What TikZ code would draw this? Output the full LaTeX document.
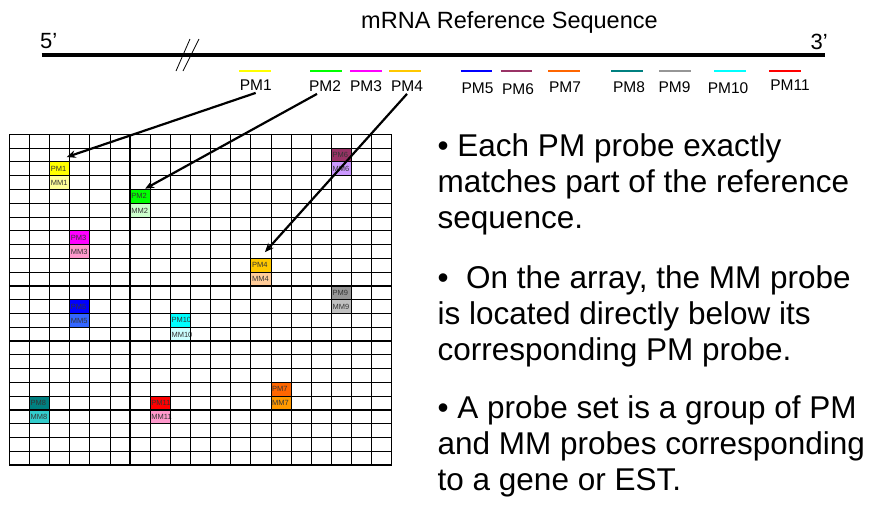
\documentclass[tikz,border=0pt]{standalone}
\usepackage{fontspec}
\setmainfont{Liberation Sans}
\usetikzlibrary{arrows.meta,positioning}

\definecolor{pmyellow}{RGB}{255,255,0}
\definecolor{mmyellow}{RGB}{255,255,153}
\definecolor{pmgreen}{RGB}{0,255,0}
\definecolor{mmgreen}{RGB}{204,255,204}
\definecolor{pmmagenta}{RGB}{255,0,255}
\definecolor{mmpink}{RGB}{255,153,204}
\definecolor{pmgold}{RGB}{255,200,0}
\definecolor{mmpeach}{RGB}{255,204,153}
\definecolor{pmblue}{RGB}{0,0,255}
\definecolor{mmblue}{RGB}{51,102,255}
\definecolor{pmplum}{RGB}{153,51,102}
\definecolor{mmlavender}{RGB}{204,153,255}
\definecolor{pmorange}{RGB}{255,102,0}
\definecolor{mmorange}{RGB}{255,153,0}
\definecolor{pmteal}{RGB}{0,128,128}
\definecolor{mmteal}{RGB}{51,204,204}
\definecolor{pmgray}{RGB}{150,150,150}
\definecolor{mmgray}{RGB}{192,192,192}
\definecolor{pmcyan}{RGB}{0,255,255}
\definecolor{mmcyan}{RGB}{204,255,255}
\definecolor{pmred}{RGB}{255,0,0}

\begin{document}
\begin{tikzpicture}[x=1pt,y=-1pt,
  seqline/.style={line width=4pt},
  probebar/.style={line width=2.4pt},
  probelabel/.style={font=\fontsize{15.5}{18}\selectfont,inner sep=2pt,anchor=base},
  cell/.style={minimum height=13.78pt,text width=17.6pt,inner xsep=1.25pt,inner ysep=0pt,
    align=left,font=\fontsize{7.5}{7.5}\selectfont,text=black!80},
  gridline/.style={line width=0.85pt},
  gridthick/.style={line width=1.25pt,line cap=rect},
  probearrow/.style={line width=2.2pt,-{Stealth[length=9pt,width=7.5pt]}},
  bullets/.style={font=\fontsize{31.5}{36}\selectfont,align=left,anchor=north west,inner sep=0pt}]

\useasboundingbox (0,0) rectangle (871,504);

% the sequence
\node[font=\fontsize{23.5}{28}\selectfont,anchor=base] (title) at (509.5,28.3) {mRNA Reference Sequence};
\node[font=\fontsize{22}{26}\selectfont,anchor=base west,inner sep=0pt] (five) at (40,48) {5’};
\node[font=\fontsize{22}{26}\selectfont,anchor=base west,inner sep=0pt] (three) at (810.5,49) {3’};
\draw[seqline] (41.7,55) -- (825,55);
\draw[line width=0.8pt] (176,71) -- (190,39);
\draw[line width=0.8pt] (183,71) -- (199,39);

% probes along the sequence
\foreach \n/\bx/\lx/\ly/\c in {1/239/255.7/90.7/pmyellow, 2/310/325/91.7/pmgreen,
    3/350/366/91.7/pmmagenta, 4/389/407/91.7/pmgold, 5/460.7/477.5/93.3/pmblue,
    6/500.7/518/94.3/pmplum, 7/548/565/92.7/pmorange, 8/611/629/92.7/pmteal,
    9/659/674.5/92.7/pmgray, 10/714/728/93.3/pmcyan, 11/769/790/90.7/pmred}
{
  \draw[probebar,\c] (\bx,71) -- ++(31.7,0);
  \node[probelabel] (lab\n) at (\lx,\ly) {PM\n};
}

% probe cells on the array
\foreach \n/\col/\row/\pc/\mc in {1/2/2/pmyellow/mmyellow, 2/6/4/pmgreen/mmgreen,
    3/3/7/pmmagenta/mmpink, 4/12/9/pmgold/mmpeach, 5/3/12/pmblue/mmblue,
    6/16/1/pmplum/mmlavender, 7/13/18/pmorange/mmorange, 8/1/19/pmteal/mmteal,
    9/16/11/pmgray/mmgray, 10/8/13/pmcyan/mmcyan, 11/7/19/pmred/mmpink}
{
  \node[cell,fill=\pc] (pm\n) at ({9.3+(\col+0.5)*20.126},{134.3+(\row+0.5)*13.78}) {PM\n};
  \node[cell,fill=\mc,below=0pt of pm\n] (mm\n) {MM\n};
}

% the array grid
\foreach \i in {0,...,19}
  \draw[gridline] ({9.3+\i*20.126},134.3) -- ++(0,330.7);
\foreach \j in {0,...,24}
  \draw[gridline] (9.3,{134.3+\j*13.78}) -- ++(382.4,0);
\foreach \i in {0,6,7,19}
  \draw[gridthick] ({9.3+\i*20.126},134.3) -- ++(0,330.7);
\foreach \j in {0,3,4,7,8,11,12,15,16,20,23,24}
  \draw[gridthick] (9.3,{134.3+\j*13.78}) -- ++(382.4,0);

\draw[probearrow] (lab1.south) -- ([shift={(7.1,-4.6)}]pm1.north);
\draw[probearrow] ([xshift=-8pt]lab2.south) -- ([shift={(5,-0.5)}]pm2.north);
\draw[probearrow] (lab4.south) -- ([shift={(4.1,-6)}]pm4.north);

% notes
\node[bullets] (note1) at (437.5,131.5) {\strut• Each PM probe exactly\\matches part of the reference\\sequence.};
\node[bullets] (note2) at (437.5,263.3) {\strut•~ On the array, the MM probe\\is located directly below its\\corresponding PM probe.};
\node[bullets] (note3) at (437.5,393.3) {\strut• A probe set is a group of PM\\and MM probes corresponding\\to a gene or EST.};
\end{tikzpicture}
\end{document}
